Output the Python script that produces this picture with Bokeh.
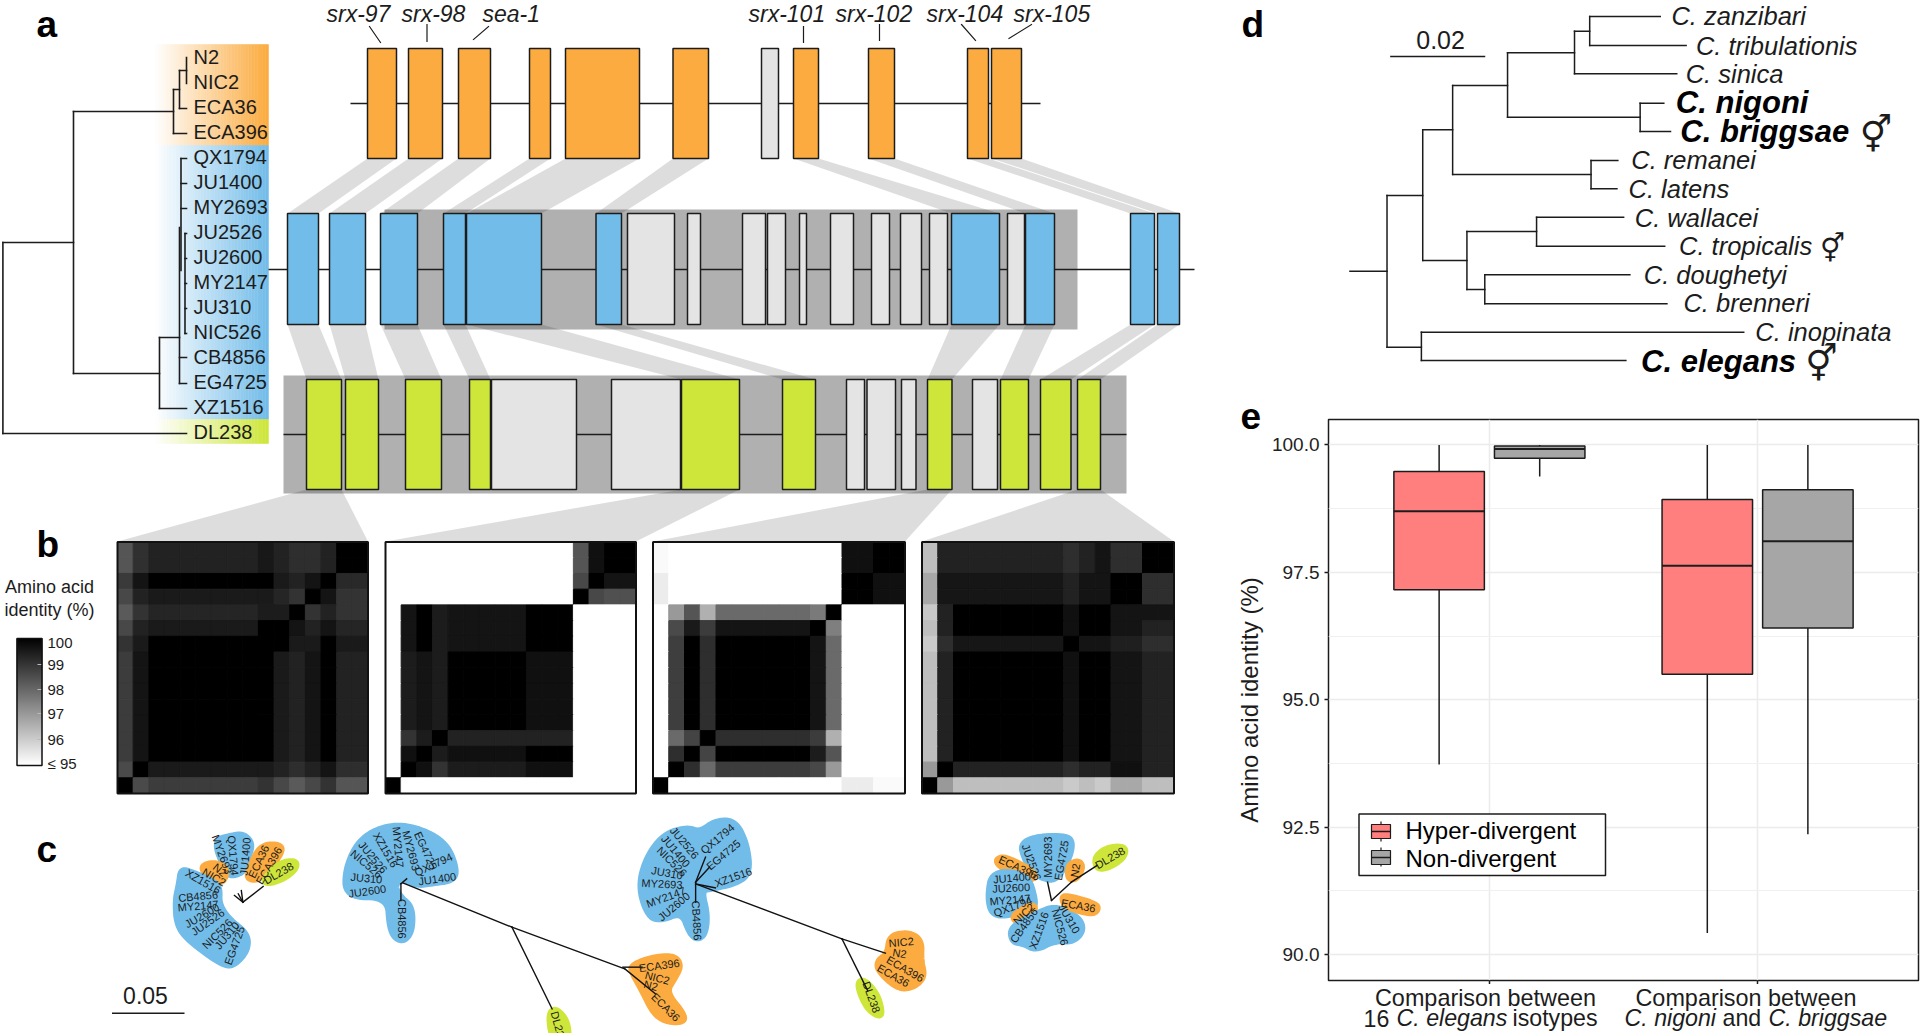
from bokeh.plotting import figure
from bokeh.layouts import row, column
from bokeh.embed import file_html
from bokeh.resources import INLINE
from bokeh.core.properties import value
from bokeh.models import Range1d, FixedTicker, ColumnDataSource, NumeralTickFormatter
from bokeh.palettes import Greys256
from bokeh.transform import linear_cmap

# ---------------- DATA ----------------
strains = ["N2","NIC2","ECA36","ECA396","QX1794","JU1400","MY2693","JU2526","JU2600","MY2147","JU310","NIC526","CB4856","EG4725","XZ1516","DL238"]
strain_rows = [56,81,106,131,156,181,206,231,256,281,306,331,356,381,406,431]

tree_a = [(2.4,242,2.4,433),(2.4,242,73,242),(2.4,433,186,433),(73,111,73,373),(73,111,173,111),(173,89,173,133),(173,133,186,133),
          (173,89,179,89),(179,70,179,108),(179,108,186,108),(179,70,186,70),(186,57,186,83),
          (73,373,159,373),(159,337,159,408),(159,408,186,408),(159,337,179,337),(179,227,179,383),(179,357,186,357),(179,383,186,383),
          (180.5,158,180.5,270),(180.5,158,186,158),(180.5,183,186,183),(180.5,208,186,208),
          (184.5,233,184.5,333),(184.5,233,186,233),(184.5,258,186,258),(184.5,283,186,283),(184.5,308,186,308),(184.5,333,186,333)]

gene_labels = ["srx-97","srx-98","sea-1","srx-101","srx-102","srx-104","srx-105"]
gene_label_x = [326,401,482,748,835,926,1013]
gene_leaders = [(369,26,380,42),(426.5,24,426.5,41),(488,26,473,39),(803,26,803,42),(879,24,879,40),(961,24,975,40),(1031,24,1008.5,38)]

t1_start = [367,408,458,529,565,672.5,761,793,868,967,991]
t1_end   = [396,442,490,550,639,708,778,818,894,988,1021]
t1_kept  = [1,1,1,1,1,1,0,1,1,1,1]
t2_start = [287,329,380,443,466,595.5,627,687,742,767,799,830,871,900,929,951,1007,1025,1130,1157]
t2_end   = [318,365,417,465,541,621,674,700,765,785,806,853,889,921,947,999,1024,1054,1154,1179]
t2_kept  = [1,1,1,1,1,1,0,0,0,0,0,0,0,0,0,1,0,1,1,1]
t3_start = [306,345,405,469,491,611,681,782,846,866.5,901,927,972,1000,1040,1077]
t3_end   = [341,378,441,490,576,680,739,815,864,895,915.5,951.5,997,1028,1070.5,1100]
t3_kept  = [1,1,1,1,0,0,1,1,0,0,0,1,0,1,1,1]
links_12 = [(0,0),(1,1),(2,2),(3,3),(4,4),(5,5),(7,15),(8,17),(9,18),(10,19)]
links_23 = [(0,0),(1,1),(2,2),(3,3),(4,6),(5,7),(15,11),(17,13),(18,14),(19,15)]
links_3h = [(0,0),(6,1),(11,2),(15,3)]

# pairwise identity (%), rows top to bottom
r0=[98.33,99.06]+[99.33]*7+[99.53,99.33,99.1,99.1,99.33,100,100]
r2=[98.86,99.59]+[100]*8+[99.49,99.33,99.59,100,99.18,99.18]
r3=[98.59,99.33]+[99.49]*8+[99.27,99.0,100,99.59,99.0,99.0]
r4=[98.24,99.0]+[99.27]*7+[99.45,99.45,100,99.0,99.33,99.0,99.0]
r5=[98.59,99.33]+[99.49]*7+[100,100,99.59,99.33,99.59,99.27,99.27]
r6=[99.0,99.49]+[100]*9+[99.49,99.49,100,99.49,99.49]
r7=[98.82,99.59]+[100]*8+[99.49,99.33,99.59,100,99.33,99.33]
r14=[98.55,100]+[99.49]*8+[99.33,99.1,99.33,99.59,99.1,99.1]
r15=[100,98.55]+[98.82]*7+[99.0,98.59,98.24,98.59,99.0,98.33,98.33]
identity_1=[r0,r0,r2,r3,r4,r5,r6]+[r7]*7+[r14,r15]
s0=[95]*12+[98.33,99.67,100,100]
s2=[95]*12+[98.59,100,99.59,99.59]
s3=[95]*12+[100,98.59,98.43,98.43]
s4=[95,99.59,100,99.45]+[99.59]*5+[100]*3+[95]*4
s7=[95,99.45,99.59,99.45]+[100]*5+[99.67]*3+[95]*4
s12=[95,99.0,99.45,100]+[99.33]*8+[95]*4
s13=[95,99.67,100,99.45]+[99.67]*5+[100]*3+[95]*4
s14=[95,100,99.67,99.0]+[99.45]*5+[99.67]*3+[95]*4
s15=[100]+[95]*15
identity_2=[s0,s0,s2,s3,s4,s4,s4]+[s7]*5+[s12,s13,s14,s15]
u0=[95.1]+[95]*11+[99.67,99.67,100,100]
u2=[95.39]+[95]*11+[100,100,99.67,99.67]
u4=[95,97.0,98.33,96.55]+[97.92]*6+[97.6,100]+[95]*4
u5=[95,98.55,99.49,98.82]+[99.6]*6+[100,97.5]+[95]*4
u6=[95,98.78,100,99.1]+[100]*6+[99.6,97.92]+[95]*4
u12=[95,97.92,98.67,100]+[99.1]*6+[98.82,96.55]+[95]*4
u13=[95,99.1,100,98.67]+[100]*6+[99.45,98.33]+[95]*4
u14=[95,100,99.1,97.92]+[98.82]*6+[98.59,97.0]+[95]*4
u15=[100]+[95]*11+[95.39,95.39,95.1,95.1]
identity_3=[u0,u0,u2,u2,u4,u5]+[u6]*6+[u12,u13,u14,u15]
v0=[96.27]+[99.33]*8+[99.1,99.33,99.59,99.1,99.1,100,100]
v2=[96.7]+[99.57]*8+[99.33,99.6,99.6,100,100,99.1,99.1]
v4=[96.08,99.33]+[100]*7+[99.67,100,100,99.59,99.59,99.59,99.59]
v5=[96.27,99.33]+[100]*7+[99.67,100,100,99.6,99.6,99.33,99.33]
v6=[96.04,99.1]+[99.57]*7+[100,99.6,99.6,99.39,99.39,99.1,99.1]
v14=[97.0,100]+[99.33]*7+[99.1,99.33,99.33,99.67,99.67,99.33,99.33]
v15=[100,97.0]+[96.27]*7+[96.04,96.27,96.04,96.7,96.7,96.27,96.27]
identity_4=[v0,v0,v2,v2,v4,v5,v6]+[v5]*7+[v14,v15]
colorbar_ticks=["100","99","98","97","96","≤ 95"]

# panel c : crop-read outlines and labels (crop px); 5 = left crop, 6 = right crop
blobs_5 = [("b",[(295,120),(340,105),(375,100),(398,130),(385,175),(375,215),(340,228),(325,210)]),
 ("o",[(260,200),(290,185),(325,195),(330,225),(315,250),(285,235)]),
 ("b",[(210,205),(240,215),(300,245),(312,265),(310,310),(335,355),(385,400),(385,450),(350,495),(320,495),(240,430),(200,380),(195,300),(205,250)]),
 ("o",[(415,135),(465,130),(478,150),(440,210),(410,240),(385,235),(385,215)]),
 ("g",[(425,235),(470,185),(512,180),(512,205),(480,235),(435,252)]),
 ("b",[(640,290),(640,200),(680,110),(760,70),(840,85),(905,130),(930,200),(925,240),(860,250),(830,255),(800,240),(780,240),(770,260),(785,290),(815,320),(815,390),(795,422),(770,415),(755,380),(750,290)]),
 ("o",[(1385,495),(1440,470),(1500,465),(1518,495),(1500,535),(1478,575),(1525,640),(1525,665),(1480,665),(1445,640),(1415,570),(1390,520)]),
 ("g",[(1170,640),(1190,622),(1220,660),(1225,720),(1180,720)])]
blobs_6 = [("b",[(45,260),(65,170),(110,100),(170,80),(200,95),(240,60),(290,60),(320,130),(328,220),(290,250),(230,265),(205,270),(220,340),(215,400),(195,418),(175,400),(155,335),(105,360),(70,350)]),
 ("o",[(680,405),(730,395),(762,420),(760,480),(770,530),(740,562),(700,565),(650,510),(650,480),(675,460)]),
 ("g",[(597,550),(615,535),(650,580),(663,640),(650,648),(620,620)]),
 ("b",[(1012,130),(1050,108),(1130,105),(1145,130),(1130,190),(1100,240),(1070,235),(1040,215),(1020,170)]),
 ("o",[(950,175),(975,168),(1050,215),(1045,240),(1000,225),(955,195)]),
 ("b",[(940,210),(1030,220),(1050,300),(1045,325),(985,345),(940,345),(928,290)]),
 ("o",[(990,345),(1040,310),(1052,325),(1025,360),(1000,365)]),
 ("b",[(985,380),(1050,340),(1100,315),(1160,350),(1172,390),(1145,425),(1100,420),(1050,450),(1020,430),(990,425)]),
 ("o",[(1135,190),(1160,180),(1170,200),(1155,235),(1135,238),(1130,215)]),
 ("o",[(1115,290),(1130,285),(1205,310),(1208,330),(1190,342),(1125,320)]),
 ("g",[(1198,170),(1230,140),(1278,137),(1275,170),(1240,200),(1205,208)])]
tips_5 = [("XZ1516",268,243,-30),("CB4856",255,287,5),("MY2147",255,316,5),("JU2600",265,345,30),("JU2526",280,365,35),("NIC526",305,400,45),("JU310",330,405,50),("EG4725",350,435,70),
 ("N2",312,208,-40),("NIC2",297,230,-30),("MY2693",318,162,-70),("QX1794",347,165,-85),("JU1400",378,168,85),("ECA36",413,183,65),("ECA396",440,195,60),("DL238",465,218,30),
 ("XZ1516",745,148,-60),("JU2526",712,170,-50),("NIC526",695,190,-40),("JU310",695,233,-5),("JU2600",697,272,8),("MY2147",778,140,-85),("MY2693",812,150,-75),("EG4725",850,150,-65),("QX1794",870,192,25),("JU1400",880,235,8),("CB4856",788,355,-90),
 ("ECA396",1460,495,8),("NIC2",1455,532,-15),("N2",1438,555,-15),("ECA36",1477,620,-45),("DL238",1197,680,-75)]
tips_6 = [("JU2526",162,127,-50),("JU1400",140,152,-50),("NIC526",130,183,-45),("JU310",118,217,-10),("MY2693",105,250,-3),("MY2147",115,290,20),("JU2600",135,318,40),("CB4856",193,360,-87),("QX1794",245,115,40),("EG4725",260,163,40),("XZ1516",285,230,20),
 ("NIC2",710,425,5),("N2",706,458,-10),("ECA396",720,505,-30),("ECA36",690,525,-30),("DL238",635,590,-70),
 ("JU2526",1040,185,-70),("MY2693",1082,170,90),("EG4725",1115,180,80),("ECA396",1005,200,-25),("JU1400",990,232,5),("JU2600",988,262,3),("MY2147",985,298,5),("QX1794",992,318,20),("NIC2",1020,340,45),("CB4856",1020,375,55),("XZ1516",1058,390,70),("NIC526",1112,380,-75),("JU310",1135,355,-60),("N2",1150,210,80),("ECA36",1158,315,-10),("DL238",1238,172,30)]
edges_5 = [(425,258,372,305),(372,305,350,285),(372,305,360,280),(372,305,368,270),
 (785,250,785,300),(785,250,800,235),(790,247,1075,380),(1075,380,1370,505),(1075,380,1180,625),(1365,500,1415,500),(1370,505,1450,580)]
edges_6 = [(190,245,215,170),(190,245,225,200),(190,245,190,305),(190,250,240,262),(190,250,560,415),(560,415,670,458),(560,415,625,570),
 (1090,300,1140,245),(1140,245,1205,195),(1090,300,1080,245)]

# panel d
tree_d = [(290,812,373,812),(373,585,373,1040),(373,585,453,585),(453,388,453,780),(453,388,520,388),(520,255,520,522),(520,255,643,255),(643,157,643,350),(643,157,793,157),(793,92,793,220),(793,92,827,92),(827,48,827,135),(827,48,985,48),(827,135,1043,135),(793,220,1022,220),(643,350,940,350),(940,308,940,393),(940,308,993,308),(940,393,1008,393),(520,522,830,522),(830,480,830,565),(830,480,890,480),(830,565,888,565),(453,780,552,780),(552,693,552,867),(552,693,708,693),(708,650,708,737),(708,650,903,650),(708,737,995,737),(552,867,592,867),(592,823,592,910),(592,823,917,823),(592,910,1000,910),(373,1040,450,1040),(450,995,450,1080),(450,995,1172,995),(450,1080,908,1080)]
species = ["C. zanzibari","C. tribulationis","C. sinica","C. remanei","C. latens","C. wallacei","C. tropicalis","C. doughetyi","C. brenneri","C. inopinata"]
species_x = [1010,1065,1042,920,914,928,1027,948,1037,1198]
species_y = [75,163,247,507,592,680,765,852,935,1022]
focal = ["C. nigoni","C. briggsae","C. elegans"]
focal_x = [1020,1030,942]
focal_y = [338,425,1115]
herm_x = [1432,1343,1310]
herm_y = [440,775,1129]
herm_sizes = ["36px","28px","36px"]

# panel e
groups = [1,2]
q1_hyper=[97.16,95.50]; med_hyper=[98.70,97.63]; q3_hyper=[99.48,98.93]; lo_hyper=[93.73,90.42]; hi_hyper=[100,100]
q1_non=[99.74,96.41]; med_non=[99.92,98.11]; q3_non=[99.98,99.12]; lo_non=[99.38,92.36]; hi_non=[100,100]
legend_names = ["Hyper-divergent","Non-divergent"]

# ---------------- STYLE ----------------
SANS="Liberation Sans"; INK="#1c1c1c"
ORANGE="#FBAB3F"; BLUE="#72BCE9"; GREEN="#CEE63A"; EXON_GRAY="#E4E4E4"; BAND="#B0B0B0"
F=value(SANS)
def zx5(x): return 100+x/2.613
def zx6(x): return 620+x/2.529
def zy(y): return 800+y/3

def canvas(w,h,x0,x1,y0,y1):
    f=figure(width=w,height=h,x_range=Range1d(x0,x1),y_range=Range1d(y1,y0),output_backend="svg",toolbar_location=None,
             x_axis_location=None,y_axis_location=None,min_border=0,outline_line_color=None)
    f.grid.visible=False
    f.frame_align=False
    return f
def txt(f,x,y,s,size,style="normal",align="left",base="alphabetic",angle=0,color=INK,font=F):
    if base=="alphabetic":           # baseline → optical middle of the capitals
        y=y-0.36*float(size[:-2]); base="middle"
    f.text([x],[y],text=[s],text_font=font,text_font_size=size,text_font_style=style,text_align=align,text_baseline=base,angle=[angle],angle_units="deg",text_color=color)
def segs(f,L,width=1.5,color=INK,fx=lambda v:v,fy=lambda v:v):
    f.segment([fx(a[0]) for a in L],[fy(a[1]) for a in L],[fx(a[2]) for a in L],[fy(a[3]) for a in L],line_color=color,line_width=width,line_cap="square")
def smooth(pts,n=3):
    for _ in range(n):
        out=[]
        for i,a in enumerate(pts):
            b=pts[(i+1)%len(pts)]
            out.append((.75*a[0]+.25*b[0],.75*a[1]+.25*b[1]))
            out.append((.25*a[0]+.75*b[0],.25*a[1]+.75*b[1]))
        pts=out
    return pts

# ---------------- LEFT : a, b, c ----------------
p=canvas(1225,1033,0,1225,0,1033)
for lab,x,y in (("a",36,37),("b",36,557),("c",36,862)):
    txt(p,x,y,lab,"37px","bold",color="#000000")

def mix(col,t):
    rgb=[int(col[i:i+2],16) for i in (1,3,5)]
    return "#%02x%02x%02x"%tuple(int(255+(c-255)*t) for c in rgb)
for col,t,b in ((ORANGE,44,145),(BLUE,145,419),(GREEN,419,443)):
    n=40; xs=[155+(268-155)*i/n for i in range(n+1)]
    cols=[mix(col,min(1,(i+.5)/n)) for i in range(n)]
    p.quad(left=xs[:-1],right=xs[1:],top=[t]*n,bottom=[b]*n,fill_color=cols,line_color=cols,line_width=.5)
segs(p,tree_a,1.6)
for s,y in zip(strains,strain_rows):
    txt(p,193,y,s,"20px",base="middle")

# gene tracks
p.quad(left=[384,283],right=[1077,1126],top=[209,375],bottom=[329,493],fill_color=BAND,line_color=None)
def ribbons(f,links,sa,ea,ya,sb,eb,yb):
    f.patches([[sa[i],ea[i],eb[j],sb[j]] for i,j in links],[[ya,ya,yb,yb] for _ in links],fill_color="black",fill_alpha=.135,line_color=None)
ribbons(p,links_12,t1_start,t1_end,158,t2_start,t2_end,213)
ribbons(p,links_23,t2_start,t2_end,324,t3_start,t3_end,379)
hm_left=[117,385,652.5,921.5]; hm_right=[367.5,635.5,904.5,1173.5]; hm_top=541.5; hm_bottom=793
ribbons(p,links_3h,t3_start,t3_end,489,hm_left,hm_right,541)
for (a,b,y) in ((350,1040,103),(268,1194,269),(283,1126,434)):
    p.line([a,b],[y,y],line_color=INK,line_width=1.5)
for st,en,kept,t,b,c in ((t1_start,t1_end,t1_kept,48,158,ORANGE),(t2_start,t2_end,t2_kept,213,324,BLUE),(t3_start,t3_end,t3_kept,379,489,GREEN)):
    p.quad(left=st,right=en,top=[t]*len(st),bottom=[b]*len(st),fill_color=[c if k else EXON_GRAY for k in kept],line_color=INK,line_width=1.5)
for s,x in zip(gene_labels,gene_label_x):
    txt(p,x,21.5,s,"23px","italic")
segs(p,gene_leaders,1.2)

# heatmaps
for m,l,r in zip((identity_1,identity_2,identity_3,identity_4),hm_left,hm_right):
    w=(r-l)/16; h=(hm_bottom-hm_top)/16
    L=[];R=[];T=[];B=[];V=[]
    for i,rw in enumerate(m):
        for j,v in enumerate(rw):
            L.append(l+j*w);R.append(l+(j+1)*w);T.append(hm_top+i*h);B.append(hm_top+(i+1)*h);V.append(v)
    src=ColumnDataSource(dict(l=L,r=R,t=T,b=B,v=V))
    cm=linear_cmap("v",list(Greys256)[::-1],95,100)
    p.quad(left="l",right="r",top="t",bottom="b",source=src,fill_color=cm,line_color=cm,line_width=1)
    p.quad(left=[l],right=[r],top=[hm_top],bottom=[hm_bottom],fill_color=None,line_color="#111111",line_width=2)

# colour bar
n=127; ys=[638+i for i in range(n+1)]
vals=[100-5*(i+.5)/n for i in range(n)]
src=ColumnDataSource(dict(t=ys[:-1],b=ys[1:],v=vals))
cm=linear_cmap("v",list(Greys256)[::-1],95,100)
p.quad(left=16.5,right=41.5,top="t",bottom="b",source=src,fill_color=cm,line_color=cm,line_width=1)
p.segment([37]*4,[664,689,713,739],[41.5]*4,[664,689,713,739],line_color="#bbbbbb",line_width=1)
p.quad(left=[16.5],right=[41.5],top=[638],bottom=[765],fill_color=None,line_color="#111111",line_width=1.5)
for s,y in zip(colorbar_ticks,(642,664,689,713,739,763)):
    txt(p,47,y,s,"15px",base="middle")
txt(p,49,593,"Amino acid","18px",align="center")
txt(p,49,616,"identity (%)","18px",align="center")

# panel c
cols={"b":BLUE,"o":ORANGE,"g":GREEN}
for blobs,fx in ((blobs_5,zx5),(blobs_6,zx6)):
    sm=[smooth(pts) for _,pts in blobs]
    p.patches([[fx(a) for a,_ in s] for s in sm],[[zy(b) for _,b in s] for s in sm],
              fill_color=[cols[k] for k,_ in blobs],line_color=[cols[k] for k,_ in blobs],line_width=6,line_join="round")
segs(p,edges_5,1.4,"#111111",zx5,zy)
segs(p,edges_6,1.4,"#111111",zx6,zy)
for tips,fx in ((tips_5,zx5),(tips_6,zx6)):
    p.text([fx(t[1]) for t in tips],[zy(t[2]) for t in tips],text=[t[0] for t in tips],angle=[t[3] for t in tips],angle_units="deg",
           text_font=F,text_font_size="11px",text_align="center",text_baseline="middle",text_color=INK)
p.line([111.5,184],[1012.7,1012.7],line_color=INK,line_width=1.5)
txt(p,145,1003,"0.05","23px",align="center")

# ---------------- RIGHT TOP : d ----------------
d=canvas(695,408,1225,1920,0,408)
dx=lambda x:1220+x/2.24
dy=lambda y:y/3
txt(d,1241,37,"d","37px","bold",color="#000000")
segs(d,tree_d,1.5,INK,dx,dy)
d.line([dx(380),dx(593)],[dy(168)]*2,line_color=INK,line_width=1.5)
txt(d,dx(493),dy(145),"0.02","25px",align="center")
for s,x,y in zip(species,species_x,species_y):
    txt(d,dx(x),dy(y),s,"25.5px","italic")
for s,x,y in zip(focal,focal_x,focal_y):
    txt(d,dx(x),dy(y),s,"31px","bold italic",color="#000000")
for x,y,z in zip(herm_x,herm_y,herm_sizes):
    txt(d,dx(x),dy(y),"⚥",z,font=value("DejaVu Sans"))

# ---------------- RIGHT BOTTOM : e ----------------
eT,eB,eL,eR=419,980,1328,1918
e=figure(width=695,height=576,x_range=Range1d(.4,2.6),y_range=Range1d(89.49,100.5),output_backend="svg",toolbar_location=None,
         min_border_left=eL-1225,min_border_right=1920-eR,min_border_top=eT-408,min_border_bottom=984-eB,
         outline_line_color=INK,outline_line_width=1.5)
e.frame_align=False
ex=lambda x:.4+(x-eL)/(eR-eL)*2.2
ey=lambda y:100.5-(y-eT)/(eB-eT)*(100.5-89.49)
major=[90,92.5,95,97.5,100]; minor=[91.25,93.75,96.25,98.75]
e.yaxis.ticker=FixedTicker(ticks=major); e.xaxis.ticker=FixedTicker(ticks=groups)
e.ygrid.ticker=FixedTicker(ticks=major,minor_ticks=minor); e.xgrid.ticker=FixedTicker(ticks=groups)
e.ygrid.grid_line_color="#ebebeb"; e.xgrid.grid_line_color="#ebebeb"
e.ygrid.grid_line_width=1.5; e.xgrid.grid_line_width=1.5
e.ygrid.minor_grid_line_color="#f0f0f0"; e.ygrid.minor_grid_line_width=1.2
e.yaxis.formatter=NumeralTickFormatter(format="0.0")
e.xaxis.major_label_overrides={1:"",2:""}
e.xaxis.major_label_text_font_size="1px"; e.xaxis.major_label_standoff=0
for ax in (e.xaxis,e.yaxis):
    ax.axis_line_color=None; ax.minor_tick_line_color=None; ax.major_tick_in=0; ax.major_tick_out=4
    ax.major_tick_line_color=INK; ax.major_tick_line_width=1.5
e.yaxis.major_label_text_font=SANS; e.yaxis.major_label_text_font_size="19px"; e.yaxis.major_label_text_color="#222222"
e.yaxis.axis_label="Amino acid identity (%)"; e.yaxis.axis_label_text_font=SANS; e.yaxis.axis_label_text_font_size="24px"
e.yaxis.axis_label_text_font_style="normal"; e.yaxis.axis_label_text_color=INK; e.yaxis.axis_label_standoff=6
off=.1875; hw=.1687
for q1,med,q3,lo,hi,c,sgn in ((q1_hyper,med_hyper,q3_hyper,lo_hyper,hi_hyper,"#FF7F7F",-1),(q1_non,med_non,q3_non,lo_non,hi_non,"#A6A6A6",1)):
    xc=[g+sgn*off for g in groups]
    e.segment(xc,lo,xc,q1,line_color=INK,line_width=1.5)
    e.segment(xc,q3,xc,hi,line_color=INK,line_width=1.5)
    e.quad(left=[x-hw for x in xc],right=[x+hw for x in xc],bottom=q1,top=q3,fill_color=c,line_color=INK,line_width=1.5)
    e.segment([x-hw for x in xc],med,[x+hw for x in xc],med,line_color=INK,line_width=2)
# legend
e.quad(left=[ex(1358.5)],right=[ex(1605)],top=[ey(813.5)],bottom=[ey(875)],fill_color="white",line_color=INK,line_width=1.5)
for nm,c,y0,y1,w0,w1,tb in ((legend_names[0],"#FF7F7F",824,838,821,841,839),(legend_names[1],"#A6A6A6",850,864,847,866,867)):
    e.segment([ex(1380.5)],[ey(w0)],[ex(1380.5)],[ey(w1)],line_color=INK,line_width=1.2)
    e.quad(left=[ex(1371)],right=[ex(1390)],top=[ey(y0)],bottom=[ey(y1)],fill_color=c,line_color=INK,line_width=1.2)
    e.segment([ex(1371)],[ey((y0+y1)/2)],[ex(1390)],[ey((y0+y1)/2)],line_color=INK,line_width=1.5)
    e.text([ex(1405)],[ey(tb-8.6)],text=[nm],text_font=F,text_font_size="24px",text_baseline="middle",text_color="#000000")

# x category labels, in a strip under the axis
f=canvas(695,49,1225,1920,984,1033)
txt(f,1485,1005.5,"Comparison between","23.4px",align="center")
txt(f,1363,1026,"16","23.2px"); txt(f,1396,1026,"C. elegans","23.2px","italic"); txt(f,1512,1026,"isotypes","23.2px")
txt(f,1745.5,1005.5,"Comparison between","23.4px",align="center")
txt(f,1624,1026,"C. nigoni","23.2px","italic"); txt(f,1722,1026,"and","23.2px"); txt(f,1768,1026,"C. briggsae","23.2px","italic")

# panel letter e, laid over the corner of the plot
tag=canvas(50,60,1232,1282,388,448)
tag.background_fill_color=None; tag.border_fill_color=None
tag.styles={"position":"absolute","left":"1232px","top":"388px"}
txt(tag,1240,429,"e","37px","bold",color="#000000")

page=row(p,column(d,e,f,spacing=0),tag,spacing=0,styles={"position":"absolute","left":"0px","top":"0px"})
open("out.html","w").write(file_html(page,INLINE))
